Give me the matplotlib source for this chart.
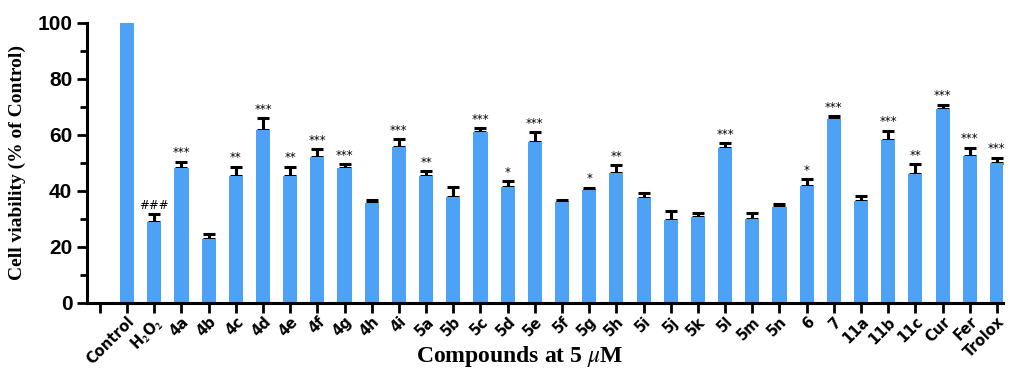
import numpy as np
import matplotlib
matplotlib.use("Agg")
import matplotlib.pyplot as plt

plt.rcParams["mathtext.fontset"] = "stix"

labels = ["Control", r"H$_\mathbf{2}$O$_\mathbf{2}$", "4a", "4b", "4c", "4d", "4e", "4f", "4g",
          "4h", "4i", "5a", "5b", "5c", "5d", "5e", "5f", "5g", "5h", "5i", "5j",
          "5k", "5l", "5m", "5n", "6", "7", "11a", "11b", "11c", "Cur", "Fer", "Trolox"]
viability = [100, 29.0, 48.1, 22.9, 45.2, 61.8, 45.5, 52.1, 48.1,
             35.8, 55.7, 45.2, 37.8, 61.0, 41.3, 57.3, 35.9, 40.3, 46.4, 37.6, 29.6,
             30.7, 55.3, 30.0, 34.3, 41.9, 65.6, 36.5, 58.1, 46.0, 69.4, 52.6, 50.0]
sem = [0, 2.6, 2.4, 1.7, 3.5, 4.1, 3.2, 2.7, 1.5,
       0.8, 2.9, 1.9, 3.6, 1.5, 2.3, 3.8, 0.7, 0.9, 2.9, 1.5, 3.1,
       1.4, 1.9, 2.1, 1.0, 2.3, 1.1, 1.7, 3.4, 3.5, 1.4, 2.9, 1.9]
signif = ["", "###", "***", "", "**", "***", "**", "***", "***",
          "", "***", "**", "", "***", "*", "***", "", "*", "**", "", "",
          "", "***", "", "", "*", "***", "", "***", "**", "***", "***", "***"]

x = np.arange(len(labels))
fig = plt.figure(figsize=(10.1, 3.75), dpi=100)
ax = fig.add_axes([0.086, 0.192, 0.907, 0.747])

ax.bar(x, viability, width=0.52, color="#4da2f6", zorder=2)
ax.errorbar(x[1:], viability[1:], yerr=[np.zeros(len(x) - 1), sem[1:]], fmt="none",
            ecolor="black", elinewidth=2.2, capsize=4.5, capthick=2.2, zorder=1)
for xi, v, e, s in zip(x, viability, sem, signif):
    if s:
        ax.text(xi, v + e + 0.8, s, ha="center", va="bottom", fontsize=8.5,
                family="DejaVu Sans")

ax.set_ylim(0, 100)
ax.set_xlim(-1.48, 32.22)
ax.set_yticks([0, 20, 40, 60, 80, 100])
ax.set_yticks(np.arange(10, 100, 20), minor=True)
ax.set_xticks(np.arange(-1, len(labels)))
ax.set_xticklabels([""] + labels, rotation=45, ha="right", rotation_mode="anchor",
                   fontsize=10.5, fontweight="bold", family="DejaVu Sans")
for t in ax.get_yticklabels():
    t.set_fontsize(15)
    t.set_fontweight("bold")
    t.set_family("Liberation Sans")
ax.tick_params(axis="both", which="major", width=2, length=7, direction="out")
ax.tick_params(axis="y", which="minor", width=2, length=5)
ax.tick_params(axis="x", pad=1)
for side in ["top", "right"]:
    ax.spines[side].set_visible(False)
for side in ["left", "bottom"]:
    ax.spines[side].set_linewidth(2.2)

ax.set_ylabel("Cell viability (% of Control)", fontsize=14, fontweight="bold",
              family="Liberation Serif", labelpad=8)
ax.set_xlabel(r"Compounds at 5 $\mu$M", fontsize=17, fontweight="bold",
              family="Liberation Serif")
ax.xaxis.set_label_coords(0.473, -0.19)
ax.xaxis.label.set_va("center")

fig.savefig("out.png", dpi=100)
